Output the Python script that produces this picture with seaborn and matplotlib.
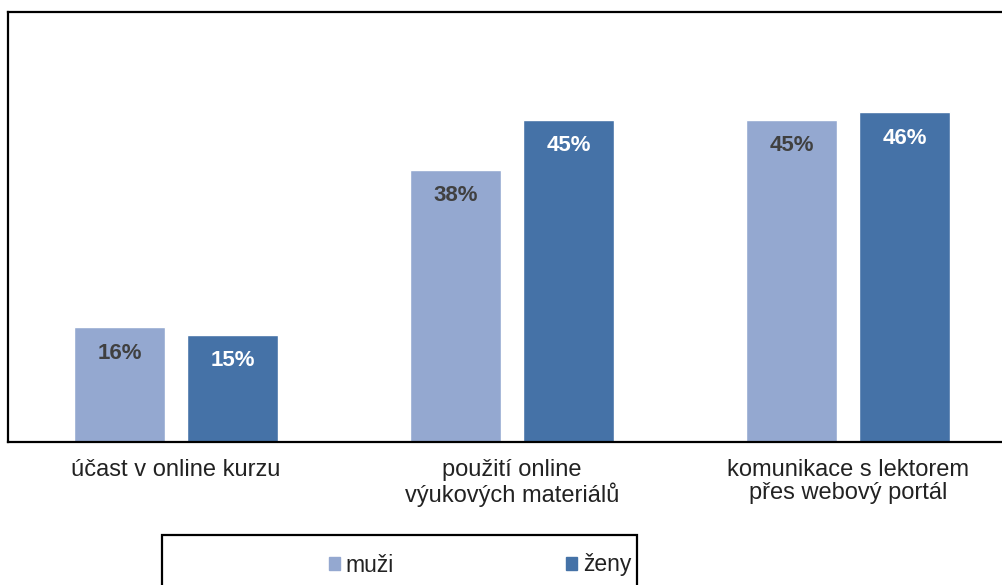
import matplotlib
matplotlib.use("Agg")
import matplotlib.pyplot as plt
import seaborn as sns
import pandas as pd
from matplotlib.patches import Rectangle

categories = ["účast v online kurzu", "použití online\nvýukových materiálů", "komunikace s lektorem\npřes webový portál"]
series_names = ["muži", "ženy"]
muzi = [16, 38, 45]
zeny = [15, 45, 46]
colors = ["#94A8D0", "#4572A7"]
label_colors = ["#404040", "white"]

sns.set_theme(style="white")
plt.rcParams['font.family'] = ['Liberation Sans', 'DejaVu Sans']

df = pd.DataFrame({
    "kategorie": categories * 2,
    "pohlaví": [series_names[0]] * 3 + [series_names[1]] * 3,
    "hodnota": muzi + zeny,
})

W, H = 1003, 585
fig = plt.figure(figsize=(W / 100, H / 100), dpi=100)
ax = fig.add_axes([8 / W, (H - 442) / H, 1008 / W, 430 / H])

sns.barplot(data=df, x="kategorie", y="hodnota", hue="pohlaví", palette=colors,
            width=0.672, gap=0.2, ax=ax, legend=False, saturation=1)

ax.set_ylim(0, 60)
ax.set_xlim(-0.5, 2.5)
ax.set_yticks([])
ax.set_xlabel("")
ax.set_ylabel("")
ax.tick_params(axis="x", length=0, pad=12, labelsize=17, labelcolor="#222222")
for lab in ax.get_xticklabels():
    lab.set_linespacing(1.1)
    lab.set_va("top")

for s in ["left", "top", "bottom"]:
    ax.spines[s].set_color("black")
    ax.spines[s].set_linewidth(1.6)
ax.spines["right"].set_visible(False)

for i, cont in enumerate(ax.containers):
    for bar in cont:
        h = bar.get_height()
        ax.annotate(f"{int(round(h))}%", (bar.get_x() + bar.get_width() / 2, h),
                    xytext=(0, -26), textcoords="offset pixels",
                    ha="center", va="center", fontsize=16, fontweight="bold",
                    color=label_colors[i])

# legend
handles = [Rectangle((0, 0), 1, 1, color=c) for c in colors]
fig.legend(handles, series_names, loc="center", bbox_to_anchor=(480 / W, 1 - 565 / H),
           ncol=2, frameon=False, handlelength=0.5, handleheight=0.5,
           handletextpad=0.25, columnspacing=7.5, fontsize=16.5, labelcolor="#222222")
fig.patches.append(Rectangle((162 / W, 1 - 600 / H), (637 - 162) / W, (600 - 535) / H,
                             transform=fig.transFigure, fill=False, edgecolor="black",
                             linewidth=1.6, clip_on=False))

fig.savefig("out.png", dpi=100)
